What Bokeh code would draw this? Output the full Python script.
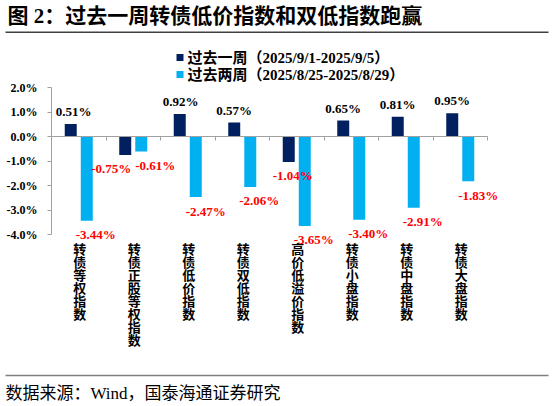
from bokeh.plotting import figure
from bokeh.models import (Range1d, FixedTicker, Label, BoxAnnotation, ColumnDataSource,
                          CustomJSTickFormatter)
from bokeh.transform import dodge
from bokeh.core.properties import value
from bokeh.embed import file_html
from bokeh.resources import INLINE

# ---------------- data ----------------
categories = ["转债等权指数", "转债正股等权指数", "转债低价指数", "转债双低指数",
              "高价低溢价指数", "转债小盘指数", "转债中盘指数", "转债大盘指数"]
week_last = [0.51, -0.75, 0.92, 0.57, -1.04, 0.65, 0.81, 0.95]      # 过去一周
week_prev = [-3.44, -0.61, -2.47, -2.06, -3.65, -3.40, -2.91, -1.83]  # 过去两周
series_names = ["过去一周（2025/9/1-2025/9/5）", "过去两周（2025/8/25-2025/8/29）"]
y_ticks = [-4, -3, -2, -1, 0, 1, 2]
title_text = "图 2：过去一周转债低价指数和双低指数跑赢"
source_text = "数据来源：Wind，国泰海通证券研究"

# label nudges (px) to mimic reference placement
last_nudge = [3, -14, 1, 0, 4, 0, 0, 0]
prev_nudge = [9, 14, 10, 9, 9, 9, 9, 10]

DARK = "#002060"
LIGHT = "#00B0F0"
SERIF = "Liberation Serif, Noto Sans CJK SC"
GREY = "#A0A0A0"

# ---------------- layout (pixels) ----------------
W, H = 553, 406
AX_L, AX_R = 51, 487      # plot area left / right (px)
AX_T, AX_B = 87, 234      # y = 2 / y = -4 (px)
N = len(categories)
YMIN, YMAX = y_ticks[0], y_ticks[-1]
px_x = (AX_R - AX_L) / N
px_y = (AX_B - AX_T) / (YMAX - YMIN)
x_rng = Range1d(-AX_L / px_x, N + (W - AX_R) / px_x)
y_rng = Range1d(YMIN - (H - AX_B) / px_y, YMAX + AX_T / px_y)

p = figure(width=W, height=H, x_range=x_rng, y_range=y_rng,
           output_backend="svg", toolbar_location=None, title=None,
           min_border=0, min_border_left=0, min_border_right=0,
           min_border_top=0, min_border_bottom=0)
p.outline_line_color = None
p.xgrid.visible = False
p.ygrid.visible = False
p.background_fill_color = "white"

centers = [i + 0.5 for i in range(N)]
src = ColumnDataSource(dict(
    pos=centers, a=week_last, b=week_prev,
    a_lbl=[f"{v:.2f}%" for v in week_last],
    b_lbl=[f"{v:.2f}%" for v in week_prev],
    a_col=["#000000" if v >= 0 else "#FF0000" for v in week_last],
    b_col=["#000000" if v >= 0 else "#FF0000" for v in week_prev],
    a_yoff=[-12.5 if v >= 0 else 14 for v in week_last],
    b_yoff=[-12.5 if v >= 0 else 14 for v in week_prev],
    a_xoff=last_nudge, b_xoff=prev_nudge,
))

OFF, BW = 0.147, 0.22
r1 = p.vbar(x=dodge("pos", -OFF), top="a", width=BW, source=src,
            fill_color=DARK, line_color=None)
r2 = p.vbar(x=dodge("pos", OFF), top="b", width=BW, source=src,
            fill_color=LIGHT, line_color=None)

for key, off in (("a", -OFF), ("b", OFF)):
    p.text(x=dodge("pos", off), y=key, text=f"{key}_lbl",
           x_offset=f"{key}_xoff", y_offset=f"{key}_yoff", text_color=f"{key}_col",
           text_font=value(SERIF), text_font_style="bold", text_font_size="13px",
           text_align="center", text_baseline="middle", source=src)

# y axis (inside the frame at x = 0)
ya = p.yaxis[0]
ya.fixed_location = 0
ya.bounds = (YMIN, YMAX)
ya.ticker = FixedTicker(ticks=y_ticks)
ya.formatter = CustomJSTickFormatter(code="return tick.toFixed(1) + '%';")
ya.axis_line_color = GREY
ya.major_tick_line_color = GREY
ya.major_tick_out = 4
ya.major_tick_in = 0
ya.minor_tick_out = 0
ya.minor_tick_in = 0
ya.major_label_standoff = 10
ya.major_label_text_font = SERIF
ya.major_label_text_font_style = "bold"
ya.major_label_text_font_size = "12px"
ya.major_label_text_color = "#000000"

# zero line with ticks at category boundaries
za = p.xaxis[0]
za.fixed_location = 0
za.bounds = (0, N)
za.ticker = FixedTicker(ticks=list(range(N + 1)))
za.formatter = CustomJSTickFormatter(code="return '';")
za.axis_line_color = GREY
za.major_tick_line_color = GREY
za.major_tick_out = 4
za.major_tick_in = 0
za.minor_tick_out = 0
za.minor_tick_in = 0
za.major_label_standoff = 0

# category labels: vertical text, one character per line, below the plot area
CH_FIRST, CH_PITCH = 15.3, 13.0
cx, cy, ch, cyoff = [], [], [], []
for i, name in enumerate(categories):
    for k, c in enumerate(name):
        cx.append(centers[i])
        cy.append(YMIN)
        ch.append(c)
        cyoff.append(CH_FIRST + k * CH_PITCH)
p.text(x="x", y="y", text="t", y_offset="yo", x_offset=1,
       source=ColumnDataSource(dict(x=cx, y=cy, t=ch, yo=cyoff)),
       text_font=value(SERIF), text_font_style="bold", text_font_size="13px",
       text_color="#000000", text_align="center", text_baseline="middle")

# legend (swatch + text), positioned like the reference
LEG_X, LEG_Y, LEG_PITCH = 176, 57, 17
for j, (name, col) in enumerate(zip(series_names, [DARK, LIGHT])):
    yc = LEG_Y + j * LEG_PITCH
    p.add_layout(BoxAnnotation(left=LEG_X, right=LEG_X + 7, top=H - yc + 3.5,
                               bottom=H - yc - 3.5, left_units="screen",
                               right_units="screen", top_units="screen",
                               bottom_units="screen", fill_color=col, fill_alpha=1,
                               line_color=None))
    p.add_layout(Label(x=LEG_X + 11, y=H - yc, x_units="screen", y_units="screen",
                       text=name, text_font=SERIF, text_font_size="15px",
                       text_font_style="bold", text_baseline="middle",
                       text_align="left", text_color="#000000"))

# title, source and rules (screen units from the bottom-left corner)
p.add_layout(Label(x=7, y=H - 15, x_units="screen", y_units="screen", text=title_text,
                   text_font=SERIF, text_font_size="21px", text_font_style="bold",
                   text_baseline="middle", text_align="left", text_color="#000000"))
p.add_layout(Label(x=5, y=H - 393, x_units="screen", y_units="screen", text=source_text,
                   text_font=SERIF, text_font_size="17px", text_font_style="normal",
                   text_baseline="middle", text_align="left", text_color="#000000"))
p.add_layout(BoxAnnotation(left=5, right=548, bottom=H - 32.5, top=H - 31,
                           left_units="screen", right_units="screen",
                           bottom_units="screen", top_units="screen",
                           fill_color="#404040", fill_alpha=1, line_color=None))
p.add_layout(BoxAnnotation(left=5, right=548, bottom=H - 375.7, top=H - 374.3,
                           left_units="screen", right_units="screen",
                           bottom_units="screen", top_units="screen",
                           fill_color="#808080", fill_alpha=1, line_color=None))

open("out.html", "w").write(file_html(p, INLINE))
